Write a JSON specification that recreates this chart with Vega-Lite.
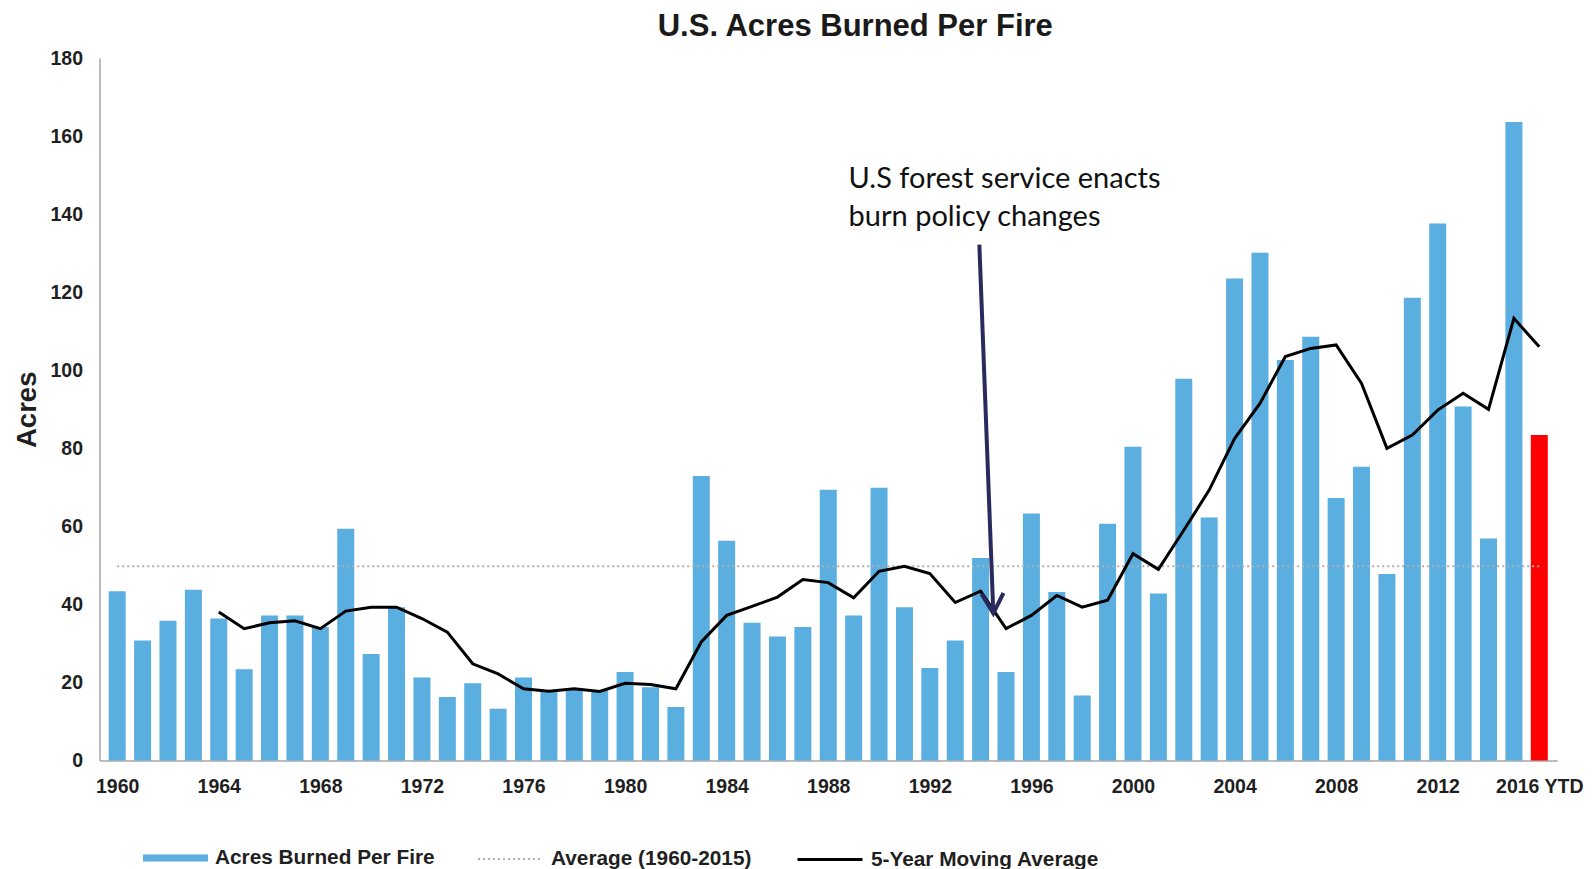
{
  "$schema": "https://vega.github.io/schema/vega-lite/v6.json",
  "width": 1457.5,
  "height": 702.6,
  "autosize": {"type": "none"},
  "padding": {"left": 99.5, "top": 58, "right": 35, "bottom": 108.4},
  "background": "white",
  "title": {
    "text": "U.S. Acres Burned Per Fire",
    "font": "Liberation Sans",
    "fontSize": 31,
    "fontWeight": "bold",
    "color": "#1a1a1a",
    "anchor": "middle",
    "dx": 27,
    "offset": 5
  },
  "datasets": {
    "fires": [
      {"year": 1960, "acres": 43.4, "series": "Acres Burned Per Fire"},
      {"year": 1961, "acres": 30.8, "series": "Acres Burned Per Fire"},
      {"year": 1962, "acres": 35.8, "series": "Acres Burned Per Fire"},
      {"year": 1963, "acres": 43.8, "series": "Acres Burned Per Fire"},
      {"year": 1964, "acres": 36.4, "series": "Acres Burned Per Fire"},
      {"year": 1965, "acres": 23.4, "series": "Acres Burned Per Fire"},
      {"year": 1966, "acres": 37.2, "series": "Acres Burned Per Fire"},
      {"year": 1967, "acres": 37.2, "series": "Acres Burned Per Fire"},
      {"year": 1968, "acres": 34.2, "series": "Acres Burned Per Fire"},
      {"year": 1969, "acres": 59.4, "series": "Acres Burned Per Fire"},
      {"year": 1970, "acres": 27.3, "series": "Acres Burned Per Fire"},
      {"year": 1971, "acres": 39.3, "series": "Acres Burned Per Fire"},
      {"year": 1972, "acres": 21.3, "series": "Acres Burned Per Fire"},
      {"year": 1973, "acres": 16.3, "series": "Acres Burned Per Fire"},
      {"year": 1974, "acres": 19.8, "series": "Acres Burned Per Fire"},
      {"year": 1975, "acres": 13.3, "series": "Acres Burned Per Fire"},
      {"year": 1976, "acres": 21.3, "series": "Acres Burned Per Fire"},
      {"year": 1977, "acres": 17.8, "series": "Acres Burned Per Fire"},
      {"year": 1978, "acres": 18.3, "series": "Acres Burned Per Fire"},
      {"year": 1979, "acres": 18.0, "series": "Acres Burned Per Fire"},
      {"year": 1980, "acres": 22.7, "series": "Acres Burned Per Fire"},
      {"year": 1981, "acres": 18.8, "series": "Acres Burned Per Fire"},
      {"year": 1982, "acres": 13.7, "series": "Acres Burned Per Fire"},
      {"year": 1983, "acres": 72.9, "series": "Acres Burned Per Fire"},
      {"year": 1984, "acres": 56.3, "series": "Acres Burned Per Fire"},
      {"year": 1985, "acres": 35.3, "series": "Acres Burned Per Fire"},
      {"year": 1986, "acres": 31.8, "series": "Acres Burned Per Fire"},
      {"year": 1987, "acres": 34.2, "series": "Acres Burned Per Fire"},
      {"year": 1988, "acres": 69.4, "series": "Acres Burned Per Fire"},
      {"year": 1989, "acres": 37.2, "series": "Acres Burned Per Fire"},
      {"year": 1990, "acres": 69.9, "series": "Acres Burned Per Fire"},
      {"year": 1991, "acres": 39.3, "series": "Acres Burned Per Fire"},
      {"year": 1992, "acres": 23.7, "series": "Acres Burned Per Fire"},
      {"year": 1993, "acres": 30.8, "series": "Acres Burned Per Fire"},
      {"year": 1994, "acres": 51.9, "series": "Acres Burned Per Fire"},
      {"year": 1995, "acres": 22.7, "series": "Acres Burned Per Fire"},
      {"year": 1996, "acres": 63.3, "series": "Acres Burned Per Fire"},
      {"year": 1997, "acres": 43.2, "series": "Acres Burned Per Fire"},
      {"year": 1998, "acres": 16.7, "series": "Acres Burned Per Fire"},
      {"year": 1999, "acres": 60.7, "series": "Acres Burned Per Fire"},
      {"year": 2000, "acres": 80.4, "series": "Acres Burned Per Fire"},
      {"year": 2001, "acres": 42.8, "series": "Acres Burned Per Fire"},
      {"year": 2002, "acres": 97.8, "series": "Acres Burned Per Fire"},
      {"year": 2003, "acres": 62.3, "series": "Acres Burned Per Fire"},
      {"year": 2004, "acres": 123.5, "series": "Acres Burned Per Fire"},
      {"year": 2005, "acres": 130.1, "series": "Acres Burned Per Fire"},
      {"year": 2006, "acres": 102.6, "series": "Acres Burned Per Fire"},
      {"year": 2007, "acres": 108.6, "series": "Acres Burned Per Fire"},
      {"year": 2008, "acres": 67.3, "series": "Acres Burned Per Fire"},
      {"year": 2009, "acres": 75.3, "series": "Acres Burned Per Fire"},
      {"year": 2010, "acres": 47.8, "series": "Acres Burned Per Fire"},
      {"year": 2011, "acres": 118.6, "series": "Acres Burned Per Fire"},
      {"year": 2012, "acres": 137.6, "series": "Acres Burned Per Fire"},
      {"year": 2013, "acres": 90.7, "series": "Acres Burned Per Fire"},
      {"year": 2014, "acres": 56.9, "series": "Acres Burned Per Fire"},
      {"year": 2015, "acres": 163.6, "series": "Acres Burned Per Fire"},
      {"year": 2016, "acres": 83.4, "series": "2016 YTD"}
    ],
    "ma": [
      {"year": 1964, "ma": 38.1, "series": "5-Year Moving Average"},
      {"year": 1965, "ma": 33.8, "series": "5-Year Moving Average"},
      {"year": 1966, "ma": 35.3, "series": "5-Year Moving Average"},
      {"year": 1967, "ma": 35.8, "series": "5-Year Moving Average"},
      {"year": 1968, "ma": 33.8, "series": "5-Year Moving Average"},
      {"year": 1969, "ma": 38.3, "series": "5-Year Moving Average"},
      {"year": 1970, "ma": 39.3, "series": "5-Year Moving Average"},
      {"year": 1971, "ma": 39.3, "series": "5-Year Moving Average"},
      {"year": 1972, "ma": 36.4, "series": "5-Year Moving Average"},
      {"year": 1973, "ma": 32.9, "series": "5-Year Moving Average"},
      {"year": 1974, "ma": 24.8, "series": "5-Year Moving Average"},
      {"year": 1975, "ma": 22.2, "series": "5-Year Moving Average"},
      {"year": 1976, "ma": 18.4, "series": "5-Year Moving Average"},
      {"year": 1977, "ma": 17.8, "series": "5-Year Moving Average"},
      {"year": 1978, "ma": 18.4, "series": "5-Year Moving Average"},
      {"year": 1979, "ma": 17.7, "series": "5-Year Moving Average"},
      {"year": 1980, "ma": 19.8, "series": "5-Year Moving Average"},
      {"year": 1981, "ma": 19.5, "series": "5-Year Moving Average"},
      {"year": 1982, "ma": 18.4, "series": "5-Year Moving Average"},
      {"year": 1983, "ma": 30.4, "series": "5-Year Moving Average"},
      {"year": 1984, "ma": 37.2, "series": "5-Year Moving Average"},
      {"year": 1985, "ma": 39.5, "series": "5-Year Moving Average"},
      {"year": 1986, "ma": 41.9, "series": "5-Year Moving Average"},
      {"year": 1987, "ma": 46.4, "series": "5-Year Moving Average"},
      {"year": 1988, "ma": 45.6, "series": "5-Year Moving Average"},
      {"year": 1989, "ma": 41.7, "series": "5-Year Moving Average"},
      {"year": 1990, "ma": 48.5, "series": "5-Year Moving Average"},
      {"year": 1991, "ma": 49.8, "series": "5-Year Moving Average"},
      {"year": 1992, "ma": 47.9, "series": "5-Year Moving Average"},
      {"year": 1993, "ma": 40.5, "series": "5-Year Moving Average"},
      {"year": 1994, "ma": 43.4, "series": "5-Year Moving Average"},
      {"year": 1995, "ma": 33.8, "series": "5-Year Moving Average"},
      {"year": 1996, "ma": 37.2, "series": "5-Year Moving Average"},
      {"year": 1997, "ma": 42.3, "series": "5-Year Moving Average"},
      {"year": 1998, "ma": 39.3, "series": "5-Year Moving Average"},
      {"year": 1999, "ma": 41.1, "series": "5-Year Moving Average"},
      {"year": 2000, "ma": 53.0, "series": "5-Year Moving Average"},
      {"year": 2001, "ma": 49.0, "series": "5-Year Moving Average"},
      {"year": 2002, "ma": 59.0, "series": "5-Year Moving Average"},
      {"year": 2003, "ma": 69.3, "series": "5-Year Moving Average"},
      {"year": 2004, "ma": 82.5, "series": "5-Year Moving Average"},
      {"year": 2005, "ma": 91.5, "series": "5-Year Moving Average"},
      {"year": 2006, "ma": 103.5, "series": "5-Year Moving Average"},
      {"year": 2007, "ma": 105.6, "series": "5-Year Moving Average"},
      {"year": 2008, "ma": 106.5, "series": "5-Year Moving Average"},
      {"year": 2009, "ma": 96.6, "series": "5-Year Moving Average"},
      {"year": 2010, "ma": 80.0, "series": "5-Year Moving Average"},
      {"year": 2011, "ma": 83.4, "series": "5-Year Moving Average"},
      {"year": 2012, "ma": 89.8, "series": "5-Year Moving Average"},
      {"year": 2013, "ma": 94.1, "series": "5-Year Moving Average"},
      {"year": 2014, "ma": 90.0, "series": "5-Year Moving Average"},
      {"year": 2015, "ma": 113.3, "series": "5-Year Moving Average"},
      {"year": 2016, "ma": 106.0, "series": "5-Year Moving Average"}
    ],
    "avg": [
      {"start": 1960, "end": 2016, "avg": 49.8, "series": "Average (1960-2015)"}
    ],
    "note": [
      {"year": 1988.8, "v": 149.1, "note": "U.S forest service enacts"},
      {"year": 1988.8, "v": 139.3, "note": "burn policy changes"}
    ],
    "arrow": [
      {"x1": 1993.95, "y1": 132.2, "x2": 1994.5, "y2": 37.7}
    ]
  },
  "layer": [
    {
      "data": {"name": "fires"},
      "mark": {"type": "bar", "width": 17},
      "encoding": {
        "x": {
          "field": "year",
          "type": "quantitative",
          "scale": {"domain": [1959.5, 2016.5], "nice": false, "zero": false},
          "axis": {
            "title": null,
            "values": [1960, 1964, 1968, 1972, 1976, 1980, 1984, 1988, 1992, 1996, 2000, 2004, 2008, 2012, 2016],
            "format": "d",
            "labelExpr": "datum.value == 2016 ? '2016 YTD' : datum.label",
            "ticks": false,
            "grid": false,
            "domainColor": "#a6a6a6",
            "domainWidth": 1.5,
            "labelFont": "Liberation Sans",
            "labelFontWeight": "bold",
            "labelFontSize": 19.5,
            "labelColor": "#1f1f1f",
            "labelPadding": 17,
            "labelOverlap": false,
            "labelFlush": false,
            "labelBound": false
          }
        },
        "y": {
          "field": "acres",
          "type": "quantitative",
          "scale": {"domain": [0, 180], "nice": false},
          "axis": {
            "title": "Acres",
            "titleFont": "Liberation Sans",
            "titleFontWeight": "bold",
            "titleFontSize": 27.5,
            "titleColor": "#1f1f1f",
            "titlePadding": 8,
            "values": [0, 20, 40, 60, 80, 100, 120, 140, 160, 180],
            "ticks": false,
            "grid": false,
            "domainColor": "#a6a6a6",
            "domainWidth": 1.5,
            "labelFont": "Liberation Sans",
            "labelFontWeight": "bold",
            "labelFontSize": 19.5,
            "labelColor": "#1f1f1f",
            "labelPadding": 17
          }
        },
        "fill": {
          "field": "series",
          "type": "nominal",
          "scale": {
            "domain": ["Acres Burned Per Fire", "2016 YTD"],
            "range": ["#5aaee0", "#ff0000"]
          },
          "legend": {
            "values": ["Acres Burned Per Fire"],
            "title": null,
            "orient": "none",
            "direction": "horizontal",
            "legendX": 43.5,
            "legendY": 767.5,
            "padding": 0,
            "labelFont": "Liberation Sans",
            "labelFontWeight": "bold",
            "labelFontSize": 20.8,
            "labelColor": "#1f1f1f",
            "labelLimit": 400,
            "labelOffset": 7,
            "symbolSize": 4225,
            "symbolType": "M-1,-0.11H1V0.11H-1Z",
            "symbolStrokeWidth": 0
          }
        }
      }
    },
    {
      "data": {"name": "avg"},
      "mark": {"type": "rule", "strokeWidth": 2, "color": "#b0b0b0"},
      "encoding": {
        "x": {"field": "start", "type": "quantitative"},
        "x2": {"field": "end"},
        "y": {"field": "avg", "type": "quantitative"},
        "strokeDash": {
          "field": "series",
          "type": "nominal",
          "scale": {"domain": ["Average (1960-2015)"], "range": [[2, 3]]},
          "legend": {
            "title": null,
            "orient": "none",
            "direction": "horizontal",
            "legendX": 377.5,
            "legendY": 767.5,
            "padding": 0,
            "labelFont": "Liberation Sans",
            "labelFontWeight": "bold",
            "labelFontSize": 20.8,
            "labelColor": "#1f1f1f",
            "labelLimit": 400,
            "labelOffset": 7,
            "symbolSize": 4225,
            "symbolType": "stroke",
            "symbolStrokeColor": "#b0b0b0",
            "symbolStrokeWidth": 2
          }
        }
      }
    },
    {
      "data": {"name": "ma"},
      "mark": {"type": "line", "strokeWidth": 3, "strokeJoin": "miter"},
      "encoding": {
        "x": {"field": "year", "type": "quantitative"},
        "y": {"field": "ma", "type": "quantitative"},
        "stroke": {
          "field": "series",
          "type": "nominal",
          "scale": {"domain": ["5-Year Moving Average"], "range": ["#000000"]},
          "legend": {
            "title": null,
            "orient": "none",
            "direction": "horizontal",
            "legendX": 696.5,
            "legendY": 767.5,
            "padding": 0,
            "labelFont": "Liberation Sans",
            "labelFontWeight": "bold",
            "labelFontSize": 20.8,
            "labelColor": "#1f1f1f",
            "labelLimit": 400,
            "labelOffset": 7,
            "symbolSize": 4225,
            "symbolType": "stroke",
            "symbolStrokeWidth": 3
          }
        }
      }
    },
    {
      "data": {"name": "arrow"},
      "mark": {"type": "rule", "strokeWidth": 4, "color": "#2b2a5e", "strokeCap": "butt"},
      "encoding": {
        "x": {"field": "x1", "type": "quantitative"},
        "y": {"field": "y1", "type": "quantitative"},
        "x2": {"field": "x2"},
        "y2": {"field": "y2"}
      }
    },
    {
      "data": {"name": "arrow"},
      "mark": {
        "type": "point",
        "shape": "M-0.55,-1L0,0L0.55,-1",
        "filled": false,
        "size": 1600,
        "stroke": "#2b2a5e",
        "strokeWidth": 4,
        "strokeJoin": "miter",
        "opacity": 1,
        "angle": -2.4
      },
      "encoding": {
        "x": {"field": "x2", "type": "quantitative"},
        "y": {"field": "y2", "type": "quantitative"}
      }
    },
    {
      "data": {"name": "note"},
      "mark": {
        "type": "text",
        "align": "left",
        "baseline": "middle",
        "font": "Lato",
        "fontSize": 29,
        "color": "#111111"
      },
      "encoding": {
        "x": {"field": "year", "type": "quantitative"},
        "y": {"field": "v", "type": "quantitative"},
        "text": {"field": "note"}
      }
    }
  ],
  "config": {
    "view": {"stroke": null}
  }
}
